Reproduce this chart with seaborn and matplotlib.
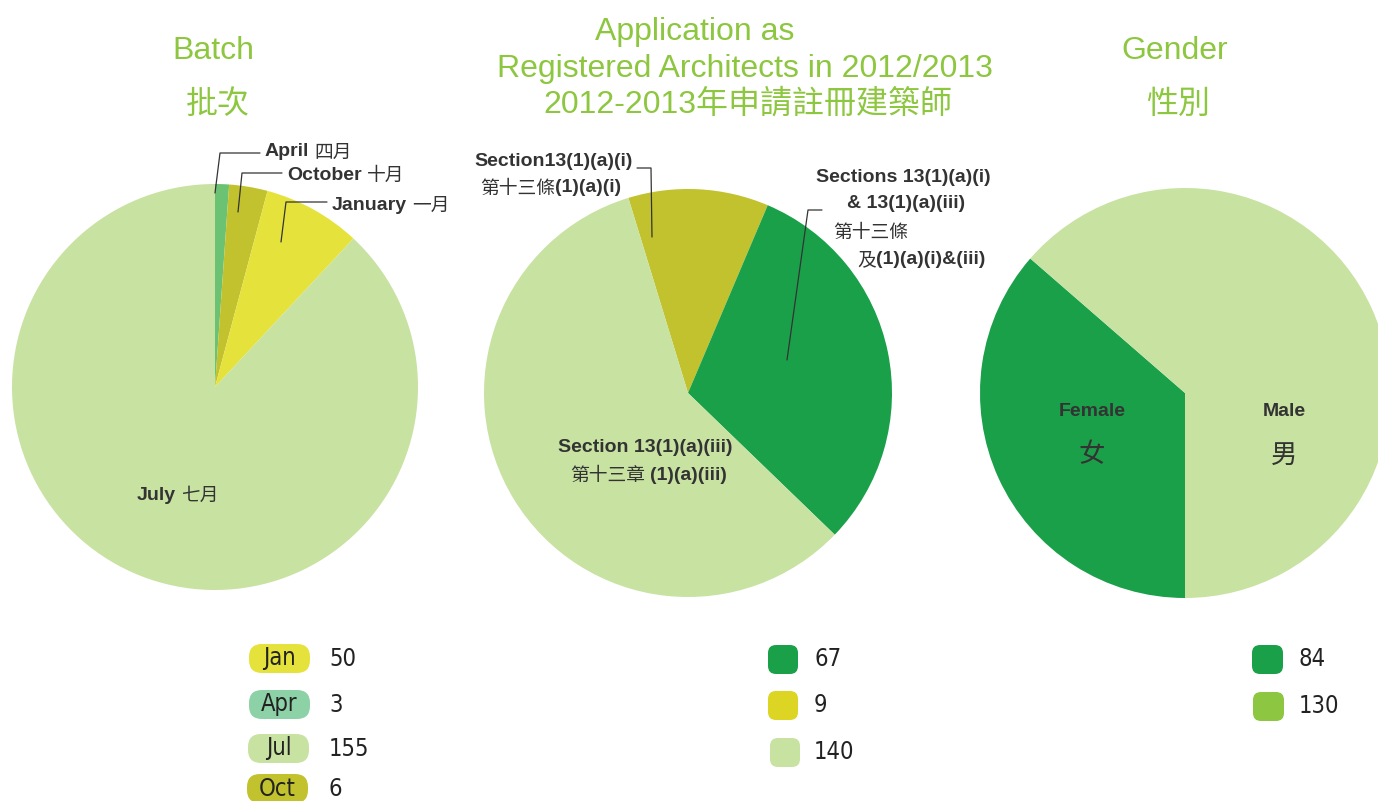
import numpy as np
import pandas as pd
import seaborn as sns
import matplotlib.pyplot as plt
from matplotlib.patches import FancyBboxPatch

# legend values
batch_labels = ['Jan', 'Apr', 'Jul', 'Oct']
batch_counts = [50, 3, 155, 6]
section_counts = [67, 9, 140]
gender_counts = [84, 130]

# slice sizes as drawn (degrees)
batch_slices = ['April', 'October', 'January', 'July']
batch_deg = [4, 11, 28, 317]
section_slices = ['13(1)(a)(i)', '13(1)(a)(i)&(iii)', '13(1)(a)(iii)']
section_deg = [40, 111, 209]
gender_slices = ['Female', 'Male']
gender_deg = [131, 229]

sns.set_theme(style='white')
plt.rcParams['font.family'] = ['Liberation Sans', 'Noto Sans CJK TC', 'DejaVu Sans']
CJK = ['Noto Sans CJK TC', 'Liberation Sans']
NARROW = ['DejaVu Sans']

LIGHT = '#C8E2A2'
DARK = '#1BA04A'
OLIVE = '#C2C22F'
YELLOW = '#E6E23C'
APRIL = '#6CC273'
TITLE = '#8DC63F'
TXT = '#333333'

W, H = 1378, 801
f = plt.figure(figsize=(W / 100, H / 100), dpi=100)
ax = f.add_axes([0, 0, 1, 1])
ax.set_xlim(0, W)
ax.set_ylim(0, H)

def Y(py):
    return H - py

wp = dict(linewidth=0)
ax.pie(batch_deg, colors=[APRIL, OLIVE, YELLOW, LIGHT], startangle=90, counterclock=False,
       center=(215, Y(387)), radius=203, wedgeprops=wp, frame=True)
ax.pie(section_deg, colors=[OLIVE, DARK, LIGHT], startangle=107, counterclock=False,
       center=(688, Y(393)), radius=204, wedgeprops=wp, frame=True)
ax.pie(gender_deg, colors=[DARK, LIGHT], startangle=139, counterclock=True,
       center=(1185, Y(393)), radius=205, wedgeprops=wp, frame=True)
ax.set_xlim(0, W)
ax.set_ylim(0, H)

# titles
tkw = dict(color=TITLE, fontsize=23, ha='center', va='center')
ax.text(213, Y(51), 'Batch', **tkw)
ax.text(218, Y(104), '批次', family=CJK, **tkw)
ax.text(695, Y(32), 'Application as', **tkw)
ax.text(745, Y(69), 'Registered Architects in 2012/2013', **tkw)
ax.text(748, Y(104), '2012-2013年申請註冊建築師', family=['Liberation Sans', 'Noto Sans CJK TC'], **tkw)
ax.text(1175, Y(51), 'Gender', **tkw)
ax.text(1178, Y(104), '性別', family=CJK, **tkw)

bkw = dict(color=TXT, fontsize=14, fontweight='bold', va='center')
rkw = dict(color=TXT, fontsize=13.5, va='center', family=CJK)
lkw = dict(color=TXT, lw=0.9)

rend = f.canvas.get_renderer()

def chain(x, py, parts, gap=0):
    # draw text pieces one after another on a line
    for s, kw in parts:
        t = ax.text(x, Y(py), s, ha='left', **kw)
        bb = t.get_window_extent(renderer=rend)
        x = bb.x1 + gap

# batch labels
ax.plot([215, 220, 260], [Y(193), Y(153), Y(153)], **lkw)
chain(265, 152, [('April', bkw), ('四月', rkw)], gap=5)
ax.plot([238, 242, 282], [Y(212), Y(173), Y(173)], **lkw)
chain(287, 175, [('October', bkw), ('十月', rkw)], gap=5)
ax.plot([281, 286, 327], [Y(242), Y(202), Y(202)], **lkw)
chain(332, 205, [('January', bkw), ('一月', rkw)], gap=5)
chain(137, 495, [('July', bkw), ('七月', rkw)], gap=5)

# section labels
ax.plot([652, 651, 637], [Y(237), Y(168), Y(168)], **lkw)
ax.text(554, Y(162), 'Section13(1)(a)(i)', ha='center', **bkw)
chain(480, 188, [('第十三條', rkw), ('(1)(a)(i)', bkw)])
ax.plot([787, 808, 822], [Y(360), Y(210), Y(210)], **lkw)
ax.text(903, Y(177), 'Sections 13(1)(a)(i)', ha='center', **bkw)
ax.text(906, Y(204), '& 13(1)(a)(iii)', ha='center', **bkw)
ax.text(833, Y(232), '第十三條', **rkw)
chain(857, 260, [('及', rkw), ('(1)(a)(i)&(iii)', bkw)])
ax.text(645, Y(448), 'Section 13(1)(a)(iii)', ha='center', **bkw)
chain(570, 475, [('第十三章', rkw), ('(1)(a)(iii)', bkw)], gap=5)

# gender labels
ax.text(1092, Y(412), 'Female', ha='center', **bkw)
ax.text(1092, Y(455), '女', ha='center', color=TXT, fontsize=19, va='center', family=CJK)
ax.text(1284, Y(412), 'Male', ha='center', **bkw)
ax.text(1284, Y(455), '男', ha='center', color=TXT, fontsize=19, va='center', family=CJK)

# custom legends
def pill(x0, y0, w, h, r, color, label=None):
    p = FancyBboxPatch((x0, Y(y0 + h)), w, h, boxstyle=f'round,pad=0,rounding_size={r}',
                       fc=color, ec='none')
    ax.add_patch(p)
    if label:
        ax.text(x0 + w / 2, Y(y0 + h / 2), label, ha='center', va='center',
                fontsize=17, color='#222222', family=NARROW, fontstretch='condensed')

nkw = dict(fontsize=17, color='#222222', va='center', family=NARROW, fontstretch='condensed')
batch_leg = ['#E6E23C', '#8DD1A7', LIGHT, OLIVE]
batch_xy = [(249, 644), (249, 690), (248, 734), (247, 774)]
for lab, val, c, (x0, y0) in zip(batch_labels, batch_counts, batch_leg, batch_xy):
    pill(x0, y0, 61, 29, 13, c, lab)
    ax.text(329, Y(y0 + 15), str(val), **nkw)

sec_leg = [DARK, '#DCD523', LIGHT]
sec_xy = [(768, 645), (768, 691), (770, 738)]
for val, c, (x0, y0) in zip(section_counts, sec_leg, sec_xy):
    pill(x0, y0, 30, 29, 8, c)
    ax.text(814, Y(y0 + 14), str(val), **nkw)

gen_leg = [DARK, '#8DC640']
gen_xy = [(1252, 645), (1253, 692)]
for val, c, (x0, y0) in zip(gender_counts, gen_leg, gen_xy):
    pill(x0, y0, 31, 29, 8, c)
    ax.text(1299, Y(y0 + 14), str(val), **nkw)

ax.set_aspect('auto')
ax.axis('off')
f.savefig('out.png', dpi=100, facecolor='white')
